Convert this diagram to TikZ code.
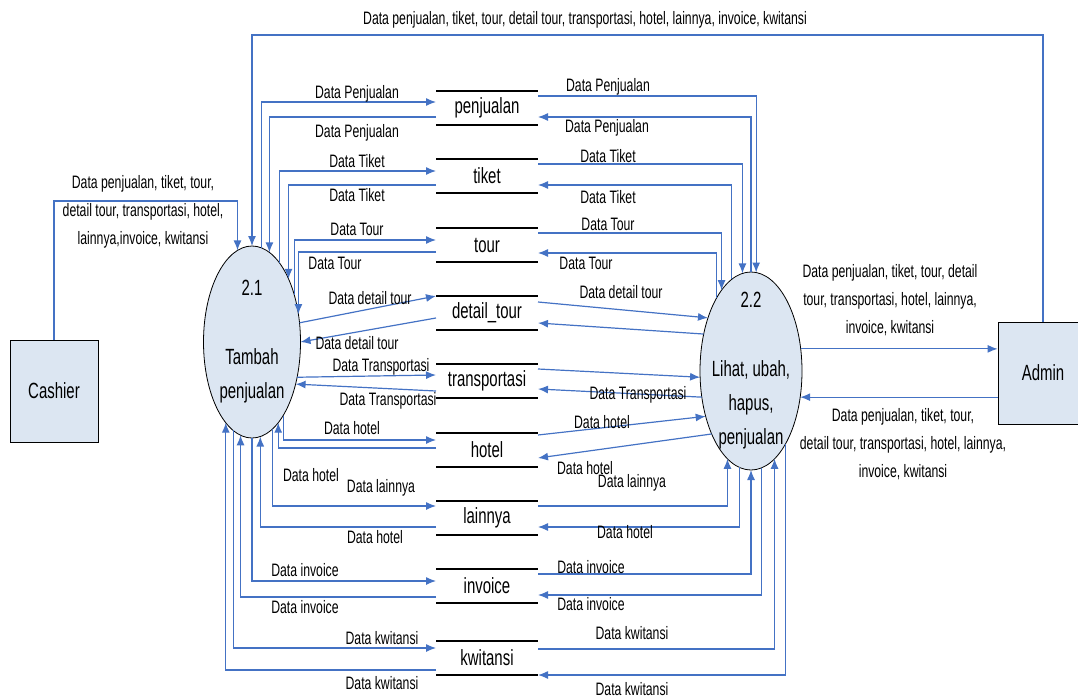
\documentclass[tikz,border=0pt]{standalone}
\usepackage{fontspec}
\setmainfont[FakeStretch=0.68]{Liberation Sans}
\usetikzlibrary{arrows.meta,shapes.geometric}

\definecolor{flowblue}{HTML}{4472C4}
\definecolor{procfill}{HTML}{DCE6F2}

\begin{document}
\begin{tikzpicture}[x=1pt,y=-1pt,>={Latex[length=10pt,width=8pt]}]
    % pixel grid of the original drawing, y runs down
    \tikzstyle{process}=[ellipse,draw=black,line width=0.8pt,fill=procfill,
    inner xsep=-12pt,inner ysep=-40pt,outer sep=0pt,align=center,
    font=\fontsize{22}{34}\selectfont]
    \tikzstyle{entity}=[rectangle,draw=black,line width=0.8pt,fill=procfill,
    minimum width=88pt,minimum height=102pt,font=\fontsize{22}{26}\selectfont]
    \tikzstyle{store}=[rectangle,inner sep=0pt,outer sep=0pt,minimum width=102pt,
    minimum height=34pt,font=\fontsize{22}{26}\selectfont]
    \tikzstyle{storeline}=[black,line width=1.3pt]
    \tikzstyle{flow}=[flowblue,line width=1.2pt]
    \tikzstyle{flowtext}=[inner sep=0pt,align=center,font=\fontsize{18}{28}\selectfont]

    \useasboundingbox (0,0) rectangle (1078,698);

    % processes and entities
    \node [process,minimum width=97pt,minimum height=192pt] (p21) at (252,342)
      {2.1\\[35pt]Tambah\\penjualan};
    \node [process,minimum width=102pt,minimum height=198pt] (p22) at (751,371)
      {2.2\\[35pt]Lihat, ubah,\\hapus,\\penjualan};
    \node [entity] (cashier) at (54,391) {Cashier};
    \node [entity,minimum width=90pt] (admin) at (1043,373) {Admin};

    % data stores
    \node [store] (penjualan)    at (487,108) {penjualan};
    \node [store] (tiket)        at (487,176) {tiket};
    \node [store] (tour)         at (487,245) {tour};
    \node [store] (detailtour)   at (487,313) {detail\_tour};
    \node [store] (transportasi) at (487,381) {transportasi};
    \node [store] (hotel)        at (487,450) {hotel};
    \node [store] (lainnya)      at (487,518) {lainnya};
    \node [store] (invoice)      at (487,586) {invoice};
    \node [store] (kwitansi)     at (487,658) {kwitansi};
    \foreach \s in {penjualan,tiket,tour,detailtour,transportasi,hotel,lainnya,invoice,kwitansi}
      \draw [storeline] (\s.north west) -- (\s.north east) (\s.south west) -- (\s.south east);

    % entity flows
    \coordinate (topline) at (0,35);
    \coordinate (cashline) at (0,201);
    \draw [flow,->] (admin.north) -- (admin.north |- topline) -| (p21.north);
    \draw [flow,->] (cashier.north) -- (cashier.north |- cashline) -| (p21.99);
    \draw [flow,->] (p22.24) -- (p22.24 -| admin.west);
    \draw [flow,->] (admin.west |- p22.-28) -- (p22.-28);

    % 2.1 <-> stores
    \draw [flow,->] (p21.84) |- ([yshift=6pt]penjualan.west);
    \draw [flow,->] ([yshift=-9pt]penjualan.west) -| (p21.79);
    \draw [flow,->] (p21.71) |- ([yshift=5pt]tiket.west);
    \draw [flow,->] ([yshift=-9pt]tiket.west) -| (p21.60);
    \draw [flow,->] (p21.48) |- ([yshift=5pt]tour.west);
    \draw [flow,->] ([yshift=-7pt]tour.west) -| (p21.31);
    \draw [flow,->] (p21.22) -- ([yshift=17pt]detailtour.west);
    \draw [flow,->] ([yshift=-5pt]detailtour.west) -- (p21.east);
    \draw [flow,->] (p21.-38) -- ([yshift=6pt]transportasi.west);
    \draw [flow,->] ([yshift=-10pt]transportasi.west) -- (p21.-44);
    \draw [flow,->] (p21.-67) |- ([yshift=10pt]hotel.west);
    \draw [flow,->] ([yshift=2pt]hotel.west) -| (p21.-72);
    \draw [flow,->] (p21.-77) |- ([yshift=12pt]lainnya.west);
    \draw [flow,->] ([yshift=-9pt]lainnya.west) -| (p21.-85);
    \draw [flow,->] (p21.south) |- ([yshift=5pt]invoice.west);
    \draw [flow,->] ([yshift=-11pt]invoice.west) -| (p21.-97);
    \draw [flow,->] (p21.-102) |- ([yshift=10pt]kwitansi.west);
    \draw [flow,->] ([yshift=-12pt]kwitansi.west) -| (p21.-108);

    % stores <-> 2.2
    \draw [flow,->] ([yshift=12pt]penjualan.east) -| (p22.87);
    \draw [flow,->] (p22.north) |- ([yshift=-9pt]penjualan.east);
    \draw [flow,->] ([yshift=12pt]tiket.east) -| (p22.95);
    \draw [flow,->] (p22.102) |- ([yshift=-9pt]tiket.east);
    \draw [flow,->] ([yshift=12pt]tour.east) -| (p22.110);
    \draw [flow,->] (p22.115) |- ([yshift=-8pt]tour.east);
    \draw [flow,->] ([yshift=11pt]detailtour.east) -- (p22.129);
    \draw [flow,->] (p22.142) -- ([yshift=-10pt]detailtour.east);
    \draw [flow,->] ([yshift=12pt]transportasi.east) -- (p22.187);
    \draw [flow,->] (p22.208) -- ([yshift=-8pt]transportasi.east);
    \draw [flow,->] ([yshift=15pt]hotel.east) -- (p22.225);
    \draw [flow,->] (p22.238) -- ([yshift=-8pt]hotel.east);
    \draw [flow,->] ([yshift=12pt]lainnya.east) -| (p22.-105);
    \draw [flow,->] (p22.-97) |- ([yshift=-9pt]lainnya.east);
    \draw [flow,->] ([yshift=12pt]invoice.east) -| (p22.south);
    \draw [flow,->] (p22.-84) |- ([yshift=-9pt]invoice.east);
    \draw [flow,->] ([yshift=9pt]kwitansi.east) -| (p22.-75);
    \draw [flow,->] (p22.-65) |- ([yshift=-17pt]kwitansi.east);

    % flow labels
    \node [flowtext] (ltop) at (585,20)
      {Data penjualan, tiket, tour, detail tour, transportasi, hotel, lainnya, invoice, kwitansi};
    \node [flowtext] (lcash) at (143,212)
      {Data penjualan, tiket, tour,\\detail tour, transportasi, hotel,\\lainnya,invoice, kwitansi};
    \node [flowtext] (ladminout) at (890,300)
      {Data penjualan, tiket, tour, detail\\tour, transportasi, hotel, lainnya,\\invoice, kwitansi};
    \node [flowtext] (ladminin) at (903,444)
      {Data penjualan, tiket, tour,\\detail tour, transportasi, hotel, lainnya,\\invoice, kwitansi};

    \node [flowtext] (l1)  at (357,94)  {Data Penjualan};
    \node [flowtext] (l2)  at (357,133) {Data Penjualan};
    \node [flowtext] (l3)  at (357,161) {Data Tiket};
    \node [flowtext] (l4)  at (357,195) {Data Tiket};
    \node [flowtext] (l5)  at (357,229) {Data Tour};
    \node [flowtext] (l6)  at (335,263) {Data Tour};
    \node [flowtext] (l7)  at (370,298) {Data detail tour};
    \node [flowtext] (l8)  at (357,343) {Data detail tour};
    \node [flowtext] (l9)  at (381,367) {Data Transportasi};
    \node [flowtext] (l10) at (388,401) {Data Transportasi};
    \node [flowtext] (l11) at (352,428) {Data hotel};
    \node [flowtext] (l12) at (311,475) {Data hotel};
    \node [flowtext] (l13) at (381,488) {Data lainnya};
    \node [flowtext] (l14) at (375,537) {Data hotel};
    \node [flowtext] (l15) at (305,570) {Data invoice};
    \node [flowtext] (l16) at (305,607) {Data invoice};
    \node [flowtext] (l17) at (382,638) {Data kwitansi};
    \node [flowtext] (l18) at (382,683) {Data kwitansi};

    \node [flowtext] (r1)  at (608,87)  {Data Penjualan};
    \node [flowtext] (r2)  at (607,128) {Data Penjualan};
    \node [flowtext] (r3)  at (608,156) {Data Tiket};
    \node [flowtext] (r4)  at (608,197) {Data Tiket};
    \node [flowtext] (r5)  at (608,224) {Data Tour};
    \node [flowtext] (r6)  at (586,263) {Data Tour};
    \node [flowtext] (r7)  at (621,292) {Data detail tour};
    \node [flowtext] (r8)  at (638,395) {Data Transportasi};
    \node [flowtext] (r9)  at (602,422) {Data hotel};
    \node [flowtext] (r10) at (585,468) {Data hotel};
    \node [flowtext] (r11) at (632,483) {Data lainnya};
    \node [flowtext] (r12) at (625,532) {Data hotel};
    \node [flowtext] (r13) at (591,567) {Data invoice};
    \node [flowtext] (r14) at (591,604) {Data invoice};
    \node [flowtext] (r15) at (632,633) {Data kwitansi};
    \node [flowtext] (r16) at (632,689) {Data kwitansi};
\end{tikzpicture}
\end{document}
